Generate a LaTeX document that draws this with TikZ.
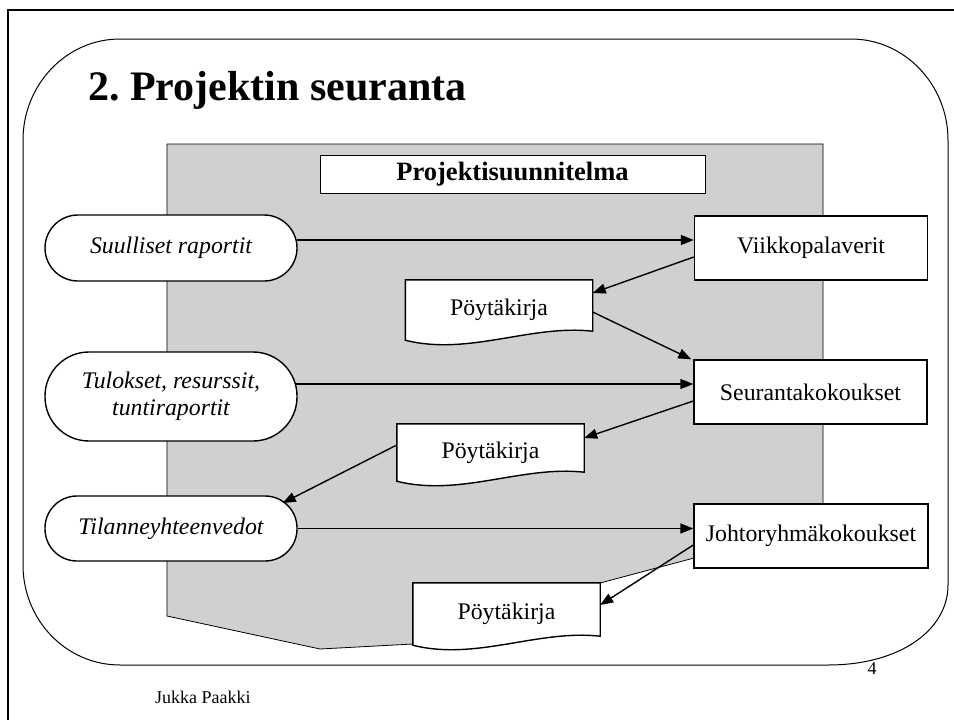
\documentclass[tikz,border=0pt]{standalone}
\usepackage{fontspec}
\setmainfont{Liberation Serif}
\usetikzlibrary{calc,arrows.meta}
\pgfdeclarelayer{bg}
\pgfsetlayers{bg,main}
\definecolor{docgrey}{RGB}{208,208,208}
\newcommand\docpath[1]{\path[docline] (#1.north west) -- (#1.north east) -- ($(#1.south east)+(0,-9)$) .. controls ($(#1.south east)+(-62,-16)$) and ($(#1.south west)+(63,16)$) .. (#1.south west) -- cycle;}
\frenchspacing
\begin{document}
\begin{tikzpicture}[x=1pt,y=-1pt,
  txt/.style={font=\fontsize{23.8}{27}\selectfont, align=center, inner sep=0pt},
  rbox/.style={txt,draw,line width=1.4pt,fill=white,minimum width=233pt,minimum height=64pt},
  term/.style={txt,font=\fontsize{23.8}{27}\selectfont\itshape,draw,line width=1.4pt,fill=white,minimum width=252pt},
  doc/.style={txt,minimum width=187pt},
  docline/.style={draw,line width=1.4pt,fill=white},
  arr/.style={line width=1.4pt,-{Triangle[length=13pt,width=10pt]}},
]
\useasboundingbox (0,0) rectangle (954,720);
% page border and rounded frame
\draw[line width=2.5pt] (8,722) -- (8,10) -- (956,10);
\draw[line width=1pt] (120,39) -- (851,39)
  .. controls (905,39) and (948,85) .. (948,140) -- (948,585)
  .. controls (948,630) and (900,665) .. (828,665) -- (120,665)
  .. controls (66,665) and (23,620) .. (23,565) -- (23,140)
  .. controls (23,85) and (66,39) .. (120,39) -- cycle;
% title and footer
\node[anchor=base west, inner sep=0pt, font=\fontsize{42}{46}\selectfont\bfseries] (title) at (88,100) {2. Projektin seuranta};
\node[anchor=base west, inner sep=0pt, font=\fontsize{18}{20}\selectfont] (author) at (155,703) {Jukka Paakki};
\node[anchor=base, inner sep=0pt, font=\fontsize{18}{20}\selectfont] (pnum) at (872,674) {4};
% nodes
\node[txt,font=\fontsize{26.5}{30}\selectfont\bfseries,draw,line width=0.8pt,fill=white,minimum width=385pt,minimum height=38pt] (pp) at (512.5,174) {Projektisuunnitelma};
\node[rbox] (v) at (811,248) {Viikkopalaverit};
\node[rbox] (s) at (810.5,392) {Seurantakokoukset};
\node[rbox,minimum width=234pt] (j) at (811,536) {Johtoryhmäkokoukset};
\node[term,minimum height=66pt,rounded corners=33pt] (su) at (171,248) {Suulliset raportit};
\node[term,minimum height=89pt,rounded corners=44pt] (tu) at (171,396.5) {Tulokset, resurssit,\\tuntiraportit};
\node[term,minimum height=65pt,rounded corners=32pt] (ti) at (171,528.5) {Tilanneyhteenvedot};
\node[doc,minimum height=60pt] (p1) at (499,310) {Pöytäkirja};
\node[doc,minimum height=57pt] (p2) at (490.5,452.5) {Pöytäkirja};
\node[doc,minimum height=62pt] (p3) at (506.5,614) {Pöytäkirja};
% background: grey document and document outlines
\begin{pgfonlayer}{bg}
\draw[fill=docgrey, line width=0.8pt] (167,144) -- (823,144) -- (823,530) -- (694,558) -- (600,583) -- (470,645) -- (413,644) -- (320,649) -- (167,616) -- cycle;
\docpath{p1}
\docpath{p2}
\docpath{p3}
\end{pgfonlayer}
% connectors
\draw[arr] ($(su.east)+(-1,-8)$) -- ($(v.west)+(0,-8)$);
\draw[arr] ($(v.west)+(0,9)$) -- ($(p1.east)+(0,-17)$);
\draw[arr] ($(p1.east)+(0,2)$) -- ($(s.north west)+(-2,0)$);
\draw[arr] ($(tu.east)+(-2,-12.5)$) -- ($(s.west)+(0,-8)$);
\draw[arr] ($(s.west)+(0,9)$) -- ($(p2.east)+(0,-14.5)$);
\draw[arr] ($(p2.west)+(0,-7.5)$) -- ($(ti.east)+(-15,-25.5)$);
\draw[arr] (ti.east) -- ($(j.west)+(0,-7.5)$);
\draw[arr] ($(j.west)+(0,9)$) -- ($(p3.east)+(0,-9)$);
\end{tikzpicture}
\end{document}
